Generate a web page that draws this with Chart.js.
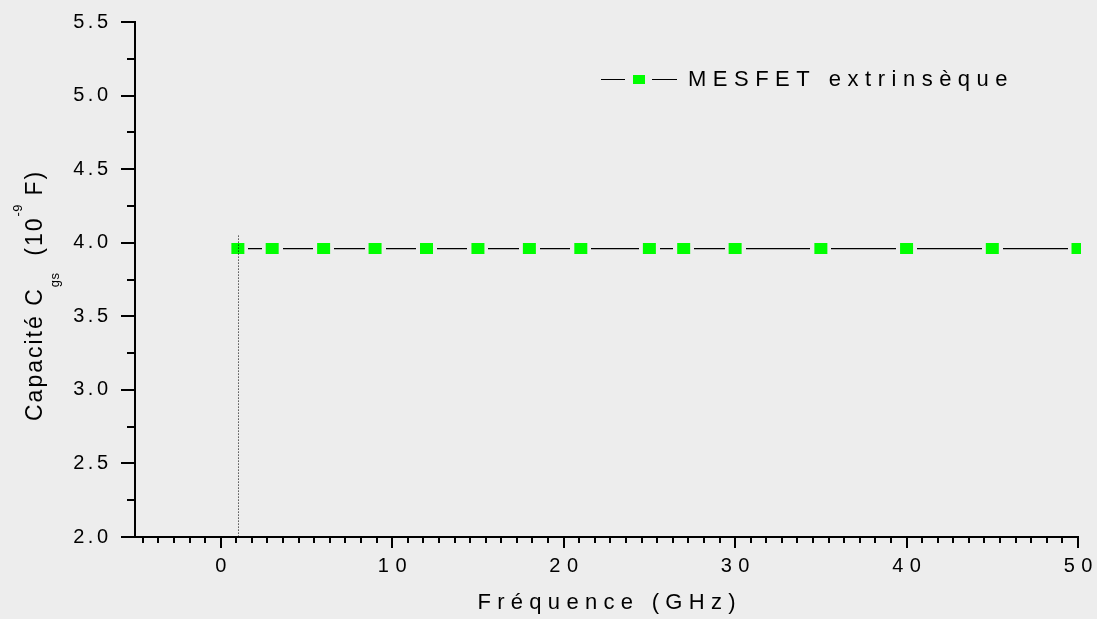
<!DOCTYPE html>
<html>
<head>
<meta charset="utf-8">
<title>Capacité Cgs en fonction de la fréquence</title>
<script src="https://cdn.jsdelivr.net/npm/chart.js@4/dist/chart.umd.min.js"></script>
<style>
  html, body { margin: 0; padding: 0; background: #ededed; }
  canvas { display: block; }
</style>
</head>
<body>
<canvas id="cgsChart" width="1097" height="619"></canvas>
<script>
// Mesures : capacité grille-source du MESFET extrinsèque
const frequencyGHz = [1, 3, 6, 9, 12, 15, 18, 21, 25, 27, 30, 35, 40, 45, 50];
const cgsValues = [3.96, 3.96, 3.96, 3.96, 3.96, 3.96, 3.96, 3.96, 3.96, 3.96, 3.96, 3.96, 3.96, 3.96, 3.96];
const seriesName = 'MESFET extrinsèque';

const xTickValues = [0, 10, 20, 30, 40, 50];
const yTickValues = [2.0, 2.5, 3.0, 3.5, 4.0, 4.5, 5.0, 5.5];
const xAxisTitle = 'Fréquence (GHz)';
const yAxisTitleParts = [
  { text: 'Capacité C', role: 'base' },
  { text: 'gs', role: 'sub' },
  { text: '  (10', role: 'base' },
  { text: '-9', role: 'sup' },
  { text: ' F)', role: 'base' }
];

// ---- styling -------------------------------------------------------------
const FONT = '"Liberation Sans", Arial, sans-serif';
const BG = '#ededed';
const MARKER = '#00ff00';
const LABEL_SPACING = { x: 6.5, y: 3.5 };   // tick label letter spacing
const TITLE_SPACING = { x: 6.3, y: 0 };

// Linear scale whose tick labels and title are letter-spaced.
class SpacedLinearScale extends Chart.LinearScale {
  drawLabels(chartArea) {
    const s = LABEL_SPACING[this.id] || 0;
    const ctx = this.ctx;
    ctx.save();
    ctx.letterSpacing = s + 'px';
    // the canvas adds spacing after the last glyph too; shift it back
    ctx.translate(this.isHorizontal() ? s / 2 : s, 0);
    super.drawLabels(chartArea);
    ctx.restore();
  }
  drawTitle() {
    const s = TITLE_SPACING[this.id] || 0;
    const ctx = this.ctx;
    ctx.save();
    ctx.letterSpacing = s + 'px';
    ctx.translate(this.isHorizontal() ? s / 2 : 0, 0);
    super.drawTitle();
    ctx.restore();
  }
}
SpacedLinearScale.id = 'spacedLinear';
SpacedLinearScale.defaults = Chart.LinearScale.defaults;
Chart.register(SpacedLinearScale);

// The plot box is fixed by layout.padding; scales add no extra margin.
function fixScaleBox(scale, size) {
  if (scale.isHorizontal()) scale.height = size; else scale.width = size;
  scale.paddingTop = scale.paddingBottom = scale.paddingLeft = scale.paddingRight = 0;
}

// Square marker with a background-coloured collar, so the connecting
// line stops short of each symbol.
function makeMarker(w, h, gap, fill) {
  const c = document.createElement('canvas');
  c.width = w + 2 * gap;
  c.height = h;
  const g = c.getContext('2d');
  g.fillStyle = BG;
  g.fillRect(0, Math.floor(h / 2) - 2, c.width, 4);
  g.fillStyle = fill;
  g.fillRect(gap, 0, w, h);
  return c;
}
const markerImage = makeMarker(13, 11, 4, MARKER);

// Page background
const backgroundPlugin = {
  id: 'pageBackground',
  beforeDraw(chart) {
    const ctx = chart.ctx;
    ctx.save();
    ctx.fillStyle = BG;
    ctx.fillRect(0, 0, chart.width, chart.height);
    ctx.restore();
  }
};

// Outward major/minor tick marks on both axes
const tickMarksPlugin = {
  id: 'tickMarks',
  afterDraw(chart) {
    const { ctx, chartArea, scales: { x, y } } = chart;
    ctx.save();
    ctx.strokeStyle = '#000';
    ctx.lineWidth = 2;
    ctx.beginPath();
    // x axis: 10 minor ticks between majors
    const xStep = (xTickValues[1] - xTickValues[0]) / 11;
    const xTicks = [];
    xTickValues.forEach(v => xTicks.push({ v, major: true }));
    for (let i = 0; i < xTickValues.length - 1; i++) {
      for (let k = 1; k <= 10; k++) xTicks.push({ v: xTickValues[i] + k * xStep, major: false });
    }
    for (let v = xTickValues[0] - xStep; v > x.min; v -= xStep) xTicks.push({ v, major: false });
    const yb = chartArea.bottom;
    xTicks.forEach(t => {
      const px = Math.round(x.getPixelForValue(t.v));
      ctx.moveTo(px, yb);
      ctx.lineTo(px, yb + (t.major ? 11 : 6));
    });
    // y axis: one minor tick between majors
    const yTicks = [];
    yTickValues.forEach((v, i) => {
      yTicks.push({ v, major: true });
      if (i < yTickValues.length - 1) yTicks.push({ v: (v + yTickValues[i + 1]) / 2, major: false });
    });
    const xl = chartArea.left;
    yTicks.forEach(t => {
      const py = Math.round(y.getPixelForValue(t.v));
      ctx.moveTo(xl, py);
      ctx.lineTo(xl - (t.major ? 14 : 8), py);
    });
    ctx.stroke();
    ctx.restore();
  }
};

// Dotted drop line from the first point to the x axis
const dropLinePlugin = {
  id: 'dropLine',
  afterDatasetsDraw(chart) {
    const { ctx, chartArea, scales: { x, y } } = chart;
    const px = Math.round(x.getPixelForValue(frequencyGHz[0])) + 0.5;
    const top = y.getPixelForValue(cgsValues[0]) - 13;
    ctx.save();
    ctx.strokeStyle = '#000';
    ctx.lineWidth = 1;
    ctx.setLineDash([1, 2]);
    ctx.beginPath();
    ctx.moveTo(px, top);
    ctx.lineTo(px, chartArea.bottom);
    ctx.stroke();
    ctx.restore();
  }
};

// Rotated y-axis title with subscript and superscript
const yTitlePlugin = {
  id: 'yTitle',
  afterDraw(chart) {
    const { ctx, chartArea } = chart;
    const styles = {
      base: { size: 23, shift: 0, spacing: 2 },
      sub:  { size: 13, shift: 17, spacing: 0.5 },
      sup:  { size: 13, shift: -20, spacing: 0.5 }
    };
    ctx.save();
    ctx.translate(42, chartArea.bottom - 116);
    ctx.rotate(-Math.PI / 2);
    ctx.fillStyle = '#000';
    ctx.textAlign = 'left';
    ctx.textBaseline = 'alphabetic';
    let pos = 0;
    yAxisTitleParts.forEach(part => {
      const st = styles[part.role];
      ctx.font = st.size + 'px ' + FONT;
      ctx.letterSpacing = st.spacing + 'px';
      ctx.fillText(part.text, pos, st.shift);
      pos += ctx.measureText(part.text).width;
    });
    ctx.restore();
  }
};

// Legend: line – marker – line, then the series name
const legendPlugin = {
  id: 'seriesLegend',
  afterDraw(chart) {
    const { ctx, chartArea } = chart;
    const ds = chart.data.datasets[0];
    const x0 = chartArea.right - 477;
    const yc = chartArea.top + 57;
    ctx.save();
    ctx.strokeStyle = '#000';
    ctx.lineWidth = 1.2;
    ctx.beginPath();
    ctx.moveTo(x0, yc + 0.5);
    ctx.lineTo(x0 + 24, yc + 0.5);
    ctx.moveTo(x0 + 51, yc + 0.5);
    ctx.lineTo(x0 + 76, yc + 0.5);
    ctx.stroke();
    ctx.fillStyle = MARKER;
    ctx.fillRect(x0 + 32, yc - 4, 12, 9);
    ctx.fillStyle = '#000';
    ctx.font = '22px ' + FONT;
    ctx.letterSpacing = '6.5px';
    ctx.textAlign = 'left';
    ctx.textBaseline = 'middle';
    ctx.fillText(ds.label, x0 + 87, yc + 1);
    ctx.restore();
  }
};

new Chart(document.getElementById('cgsChart'), {
  type: 'line',
  data: {
    datasets: [{
      label: seriesName,
      data: frequencyGHz.map((f, i) => ({ x: f, y: cgsValues[i] })),
      borderColor: '#000',
      borderWidth: 1.2,
      tension: 0,
      pointStyle: markerImage,
      pointRadius: 7,
      clip: { left: false, top: false, right: 3, bottom: false }
    }]
  },
  options: {
    responsive: false,
    animation: false,
    devicePixelRatio: 1,
    layout: { padding: { top: 22, right: 19, bottom: 0, left: 0 } },
    plugins: {
      legend: { display: false },
      tooltip: { enabled: false }
    },
    scales: {
      x: {
        type: 'spacedLinear',
        min: -5,
        max: 50,
        afterBuildTicks: s => { s.ticks = xTickValues.map(v => ({ value: v })); },
        afterFit: s => fixScaleBox(s, 82),
        grid: { display: false, drawTicks: false },
        border: { display: true, color: '#000', width: 2 },
        ticks: {
          color: '#000',
          font: { family: FONT, size: 20 },
          padding: 17,
          maxRotation: 0,
          autoSkip: false,
          callback: v => String(v)
        },
        title: {
          display: true,
          text: xAxisTitle,
          color: '#000',
          font: { family: FONT, size: 22 },
          padding: { top: 0, bottom: 3 }
        }
      },
      y: {
        type: 'spacedLinear',
        min: 2,
        max: 5.5,
        afterBuildTicks: s => { s.ticks = yTickValues.map(v => ({ value: v })); },
        afterFit: s => fixScaleBox(s, 135),
        grid: { display: false, drawTicks: false },
        border: { display: true, color: '#000', width: 2 },
        ticks: {
          color: '#000',
          font: { family: FONT, size: 20 },
          padding: 27,
          autoSkip: false,
          callback: v => Number(v).toFixed(1)
        },
        title: { display: false }
      }
    }
  },
  plugins: [backgroundPlugin, tickMarksPlugin, dropLinePlugin, yTitlePlugin, legendPlugin]
});
</script>
</body>
</html>
